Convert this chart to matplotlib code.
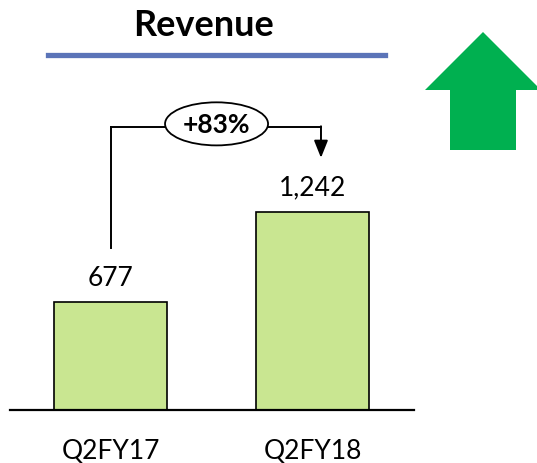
import matplotlib
matplotlib.use("Agg")
import matplotlib.pyplot as plt
from matplotlib.patches import Ellipse, Polygon
from matplotlib.lines import Line2D

# data
categories = ["Q2FY17", "Q2FY18"]
revenue = [677, 1242]
growth_label = "+83%"
title = "Revenue"

plt.rcParams["font.family"] = ["Lato", "DejaVu Sans"]

W, H = 537, 463
fig = plt.figure(figsize=(W / 100, H / 100), dpi=100)

# axes placed so that the baseline sits at pixel row 410
ax = fig.add_axes([9.5 / W, (H - 410) / H, 404 / W, 319 / H])
x = list(range(len(categories)))
ax.bar(x, revenue, width=0.56, color="#C9E691", edgecolor="black", linewidth=1.2, zorder=2)
ax.set_xlim(-0.5, 1.5)
ax.set_ylim(0, 2000)
for s in ["top", "left", "right"]:
    ax.spines[s].set_visible(False)
ax.spines["bottom"].set_linewidth(1.6)
ax.set_yticks([])
ax.set_xticks(x)
ax.set_xticklabels(categories, fontsize=19)
ax.tick_params(axis="x", length=0, pad=21)

# value labels
for xi, v in zip(x, revenue):
    ax.annotate(f"{v:,}", (xi, v), xytext=(0, 17), textcoords="offset points",
                ha="center", va="center", fontsize=19)

# growth connector
y_top = 1775
ax.plot([0, 0], [revenue[0] + 340, y_top], color="black", lw=1.4, clip_on=False)
ax.plot([0, 0.27], [y_top, y_top], color="black", lw=1.4, clip_on=False)
ax.plot([0.78, 1.042], [y_top, y_top], color="black", lw=1.4, clip_on=False)
ax.annotate("", xy=(1.042, revenue[1] + 339), xytext=(1.042, y_top + 4),
            arrowprops=dict(arrowstyle="-|>,head_length=1.05,head_width=0.42",
                            color="black", lw=1.4, shrinkA=0, shrinkB=0),
            annotation_clip=False)
ax.add_patch(Ellipse((0.525, 1794), 0.51, 270, facecolor="white", edgecolor="black",
                     lw=1.3, clip_on=False, zorder=3))
ax.text(0.525, 1785, growth_label, ha="center", va="center", fontsize=19,
        fontweight="bold", zorder=4)

# title and blue rule
fig.text(204 / W, 1 - 25 / H, title, ha="center", va="center", fontsize=26, fontweight="bold")
fig.add_artist(Line2D([48 / W, 385 / W], [1 - 55 / H, 1 - 55 / H], color="#5B74B8", lw=3.8))

# green up arrow
pts = [(483, 32), (541, 90), (516, 90), (516, 150), (450, 150), (450, 90), (425, 90)]
fig.add_artist(Polygon([(px / W, 1 - py / H) for px, py in pts], closed=True,
                       facecolor="#00B050", edgecolor="none", transform=fig.transFigure))

fig.savefig("out.png", dpi=100)
